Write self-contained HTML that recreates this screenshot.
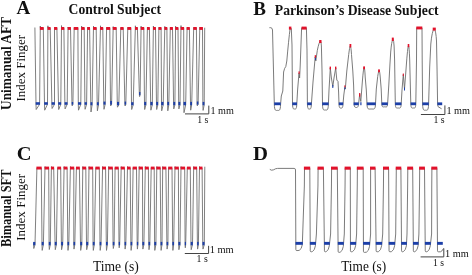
<!DOCTYPE html>
<html><head><meta charset="utf-8"><title>Figure</title>
<style>
html,body{margin:0;padding:0;background:#fff;overflow:hidden}
svg{display:block}
text{font-family:"Liberation Serif","Times New Roman",serif;fill:#111}
</style></head><body>
<svg width="472" height="275" viewBox="0 0 472 275">
<rect width="472" height="275" fill="#fff"/>
<g>
<path d="M34.9 27.5 L36 104.8 L36.2 109.5 L39.6 104.3 L40.3 26 L40.4 28.2 L43.3 28.2 L44.5 104.8 L44.7 110.2 L47.5 104.3 L47.9 25.8 L48 28.2 L50.2 28.2 L51.9 104.8 L52.1 108.5 L54.5 104.3 L54.5 27.2 L54.6 28.2 L56.9 28.2 L58.5 104.8 L58.7 109.5 L60.8 104.3 L61.5 25.6 L61.6 28.2 L63.9 28.2 L64.9 104.8 L65.1 108.9 L67.2 104.3 L68.1 27 L68.2 28.2 L70.5 28.2 L72 104.7 L72.2 105.9 L72.9 104.2 L74.2 27.8 L74.3 28.2 L77.9 28.2 L78.3 104.8 L78.5 110.2 L80.8 104.3 L81.6 26 L81.7 28.2 L84.2 28.2 L84.9 104.8 L85.1 109.3 L86.6 104.3 L87.6 27.6 L87.7 28.2 L89.6 28.2 L90.8 105.3 L91 112 L92.1 104.8 L93.5 26.2 L93.6 28.2 L96.2 28.2 L97.2 105.3 L97.4 110.8 L98.5 104.8 L100.5 25.8 L100.6 28.2 L102.8 28.2 L103.8 104.7 L104 109.3 L105.2 104.2 L106.6 27.7 L106.7 28.2 L109.8 28.2 L110.5 104.7 L110.7 105.9 L111.6 104.2 L113.2 26.6 L113.3 28.2 L116.2 28.2 L117.3 105.3 L117.5 107.2 L118.8 104.8 L120.8 27.7 L120.9 28.2 L123.2 28.2 L124.9 104.7 L125.1 106 L125.8 104.2 L127.8 27.6 L127.9 28.2 L130.8 28.2 L131.5 105.3 L131.7 109.5 L133.2 104.8 L135.4 25.8 L135.5 28.2 L137.4 28.2 L139.4 95.2 L139.6 96.6 L140.1 94.7 L141.1 26.2 L141.2 28.2 L143.8 28.2 L144.5 105.3 L144.7 109.5 L145.9 104.8 L147.4 27.6 L147.5 28.2 L149.4 28.2 L150.7 105.3 L150.9 110.2 L152.3 104.8 L153.4 26 L153.5 28.2 L155.5 28.2 L156.5 105.3 L156.7 109.5 L157.8 104.8 L158.9 27.6 L159 28.2 L161.1 28.2 L161.5 105.3 L161.7 110.8 L163.2 104.8 L164.8 26.4 L164.9 28.2 L166.9 28.2 L167.6 105.3 L167.8 110.8 L168.8 104.8 L170.3 27.6 L170.4 28.2 L172.5 28.2 L173.6 105.3 L173.8 108.9 L174.9 104.8 L175.6 26.2 L175.7 28.2 L178 28.2 L178.7 105.3 L178.9 108.9 L180 104.8 L181 25.6 L181.1 28.2 L183.7 28.2 L183.8 105.3 L184 112.7 L185.7 104.8 L187.1 27.6 L187.2 28.2 L189.4 28.2 L190.5 105.3 L190.7 110.2 L191.7 104.8 L193.7 27.6 L193.8 28.2 L196.4 28.2 L197.1 104.7 L197.3 105.9 L198.1 104.2 L199.8 27.4 L199.9 28.2 L202.5 28.2 L202.9 105.3 L203.1 110.4 L204.2 104.8 L204.7 27.7" fill="none" stroke="#727272" stroke-width="0.9" stroke-linejoin="round"/>
<rect x="39.9" y="27" width="3.8" height="2.9" fill="#e2122b"/>
<rect x="47.5" y="27" width="3.1" height="2.9" fill="#e2122b"/>
<rect x="54.1" y="27" width="3.2" height="2.9" fill="#e2122b"/>
<rect x="61.1" y="27" width="3.2" height="2.9" fill="#e2122b"/>
<rect x="67.7" y="27" width="3.2" height="2.9" fill="#e2122b"/>
<rect x="73.8" y="27" width="4.5" height="2.9" fill="#e2122b"/>
<rect x="81.2" y="27" width="3.4" height="2.9" fill="#e2122b"/>
<rect x="87.2" y="27" width="2.8" height="2.9" fill="#e2122b"/>
<rect x="93.1" y="27" width="3.5" height="2.9" fill="#e2122b"/>
<rect x="100.1" y="27" width="3.1" height="2.9" fill="#e2122b"/>
<rect x="106.2" y="27" width="4" height="2.9" fill="#e2122b"/>
<rect x="112.8" y="27" width="3.8" height="2.9" fill="#e2122b"/>
<rect x="120.4" y="27" width="3.2" height="2.9" fill="#e2122b"/>
<rect x="127.4" y="27" width="3.8" height="2.9" fill="#e2122b"/>
<rect x="135" y="27" width="2.8" height="2.9" fill="#e2122b"/>
<rect x="140.7" y="27" width="3.5" height="2.9" fill="#e2122b"/>
<rect x="147" y="27" width="2.8" height="2.9" fill="#e2122b"/>
<rect x="153" y="27" width="2.9" height="2.9" fill="#e2122b"/>
<rect x="158.5" y="27" width="3" height="2.9" fill="#e2122b"/>
<rect x="164.4" y="27" width="2.9" height="2.9" fill="#e2122b"/>
<rect x="169.9" y="27" width="3" height="2.9" fill="#e2122b"/>
<rect x="175.2" y="27" width="3.2" height="2.9" fill="#e2122b"/>
<rect x="180.6" y="27" width="3.5" height="2.9" fill="#e2122b"/>
<rect x="186.7" y="27" width="3.1" height="2.9" fill="#e2122b"/>
<rect x="193.3" y="27" width="3.5" height="2.9" fill="#e2122b"/>
<rect x="199.4" y="27" width="3.5" height="2.9" fill="#e2122b"/>
<rect x="35.7" y="102.2" width="4.2" height="2.6" fill="#1c3fa8"/>
<rect x="44.2" y="102.2" width="3.6" height="2.6" fill="#1c3fa8"/>
<rect x="51.6" y="102.2" width="3.2" height="2.6" fill="#1c3fa8"/>
<rect x="58.2" y="102.2" width="2.9" height="2.6" fill="#1c3fa8"/>
<rect x="64.6" y="102.2" width="2.9" height="2.6" fill="#1c3fa8"/>
<rect x="71.7" y="102" width="1.5" height="2.7" fill="#1c3fa8"/>
<rect x="78" y="102.2" width="3.1" height="2.6" fill="#1c3fa8"/>
<rect x="84.6" y="102.2" width="2.3" height="2.6" fill="#1c3fa8"/>
<rect x="90.5" y="102.2" width="1.9" height="3.1" fill="#1c3fa8"/>
<rect x="96.9" y="102.2" width="1.9" height="3.1" fill="#1c3fa8"/>
<rect x="103.5" y="101.6" width="2" height="3.1" fill="#1c3fa8"/>
<rect x="110.2" y="100.9" width="1.7" height="3.8" fill="#1c3fa8"/>
<rect x="117" y="101.9" width="2.1" height="3.4" fill="#1c3fa8"/>
<rect x="124.6" y="101.6" width="1.5" height="3.1" fill="#1c3fa8"/>
<rect x="131.2" y="102.2" width="2.3" height="3.1" fill="#1c3fa8"/>
<rect x="139.1" y="92" width="1.3" height="3.2" fill="#1c3fa8"/>
<rect x="144.2" y="101.9" width="2" height="3.4" fill="#1c3fa8"/>
<rect x="150.4" y="101.9" width="2.2" height="3.4" fill="#1c3fa8"/>
<rect x="156.2" y="101.9" width="1.9" height="3.4" fill="#1c3fa8"/>
<rect x="161.2" y="101.9" width="2.3" height="3.4" fill="#1c3fa8"/>
<rect x="167.3" y="101.9" width="1.8" height="3.4" fill="#1c3fa8"/>
<rect x="173.3" y="101.9" width="1.9" height="3.4" fill="#1c3fa8"/>
<rect x="178.4" y="101.9" width="1.9" height="3.4" fill="#1c3fa8"/>
<rect x="183.5" y="101.9" width="2.5" height="3.4" fill="#1c3fa8"/>
<rect x="190.2" y="101.9" width="1.8" height="3.4" fill="#1c3fa8"/>
<rect x="196.8" y="101.5" width="1.6" height="3.2" fill="#1c3fa8"/>
<rect x="202.6" y="101.9" width="1.8" height="3.4" fill="#1c3fa8"/>
<path d="M33.5 242.5 L33.8 248.5 L35 244.5 L36.9 168.2 L41.3 168.2 L42 245 L42.2 250.4 L43.4 244.5 L45 166.6 L45.1 168.2 L48.7 168.2 L49.1 245 L49.3 249.5 L50.3 244.5 L51.4 166.6 L51.5 168.2 L53.7 168.2 L55.1 245 L55.3 249.7 L56.4 244.5 L57.7 167.8 L57.8 168.2 L60.7 168.2 L61.4 245 L61.6 249.7 L62.7 244.5 L64.1 166.6 L64.2 168.2 L67.1 168.2 L67.8 245 L68 250.4 L68.8 244.5 L70.4 166.6 L70.5 168.2 L73.8 168.2 L73.8 245 L74 249.1 L74.8 244.5 L76.4 167.8 L76.5 168.2 L79.4 168.2 L80.5 245 L80.7 250.4 L81.8 244.5 L82.8 166.6 L82.9 168.2 L85.8 168.2 L86.5 245 L86.7 249.7 L87.9 244.5 L89 166.6 L89.1 168.2 L92.7 168.2 L93.1 245 L93.3 250.4 L94.3 244.5 L95.8 167.8 L95.9 168.2 L99.3 168.2 L100 245 L100.2 250.4 L101 244.5 L102.6 166.6 L102.7 168.2 L105.6 168.2 L106.3 245 L106.5 250.4 L107.4 244.5 L108.7 166.6 L108.8 168.2 L112.4 168.2 L113.1 245 L113.3 248.5 L114.1 244.5 L115.1 167.8 L115.2 168.2 L118.3 168.2 L119 245 L119.2 247.8 L119.7 244.5 L121.2 166.6 L121.3 168.2 L124.4 168.2 L124.9 245 L125.1 249.1 L125.8 244.5 L127.5 166.6 L127.6 168.2 L130.2 168.2 L130.9 245 L131.1 250.4 L131.9 244.5 L133.1 167.8 L133.2 168.2 L136.5 168.2 L137.2 245 L137.4 249.1 L137.9 244.5 L139.2 166.6 L139.3 168.2 L142.5 168.2 L142.7 245 L142.9 249.1 L143.9 244.5 L145.3 166.6 L145.4 168.2 L148.4 168.2 L148.8 245 L149 249.7 L149.8 244.5 L151.2 167.8 L151.3 168.2 L154.2 168.2 L154.6 245 L154.8 250.4 L155.9 244.5 L156.8 166.6 L156.9 168.2 L160.2 168.2 L160.9 245 L161.1 250.4 L162 244.5 L162.7 166.6 L162.8 168.2 L165.9 168.2 L166.9 245 L167.1 249.1 L167.9 244.5 L168.6 167.8 L168.7 168.2 L172 168.2 L172.7 245 L172.9 250.4 L173.7 244.5 L175 166.6 L175.1 168.2 L178.4 168.2 L178.7 245 L178.9 249.7 L180 244.5 L181 166.6 L181.1 168.2 L184.7 168.2 L185.1 245 L185.3 247.8 L185.7 244.5 L187.3 167.8 L187.4 168.2 L190.3 168.2 L191 245 L191.2 249.7 L192.5 244.5 L193.7 166.6 L193.8 168.2 L196.7 168.2 L197.4 245 L197.6 249.1 L198.4 244.5 L199.5 166.6 L199.6 168.2 L202.1 168.2 L202.8 245 L203 249.1 L204.3 244.5 L204.8 166.7" fill="none" stroke="#727272" stroke-width="0.9" stroke-linejoin="round"/>
<rect x="36.4" y="166.6" width="5.3" height="2.9" fill="#e2122b"/>
<rect x="44.6" y="166.6" width="4.5" height="2.9" fill="#e2122b"/>
<rect x="51" y="166.6" width="3.1" height="2.9" fill="#e2122b"/>
<rect x="57.3" y="166.6" width="3.8" height="2.9" fill="#e2122b"/>
<rect x="63.7" y="166.6" width="3.8" height="2.9" fill="#e2122b"/>
<rect x="70" y="166.6" width="4.2" height="2.9" fill="#e2122b"/>
<rect x="76" y="166.6" width="3.8" height="2.9" fill="#e2122b"/>
<rect x="82.4" y="166.6" width="3.8" height="2.9" fill="#e2122b"/>
<rect x="88.6" y="166.6" width="4.5" height="2.9" fill="#e2122b"/>
<rect x="95.4" y="166.6" width="4.3" height="2.9" fill="#e2122b"/>
<rect x="102.2" y="166.6" width="3.8" height="2.9" fill="#e2122b"/>
<rect x="108.3" y="166.6" width="4.5" height="2.9" fill="#e2122b"/>
<rect x="114.7" y="166.6" width="4" height="2.9" fill="#e2122b"/>
<rect x="120.8" y="166.6" width="4" height="2.9" fill="#e2122b"/>
<rect x="127.1" y="166.6" width="3.5" height="2.9" fill="#e2122b"/>
<rect x="132.7" y="166.6" width="4.2" height="2.9" fill="#e2122b"/>
<rect x="138.8" y="166.6" width="4.1" height="2.9" fill="#e2122b"/>
<rect x="144.9" y="166.6" width="3.9" height="2.9" fill="#e2122b"/>
<rect x="150.8" y="166.6" width="3.8" height="2.9" fill="#e2122b"/>
<rect x="156.4" y="166.6" width="4.2" height="2.9" fill="#e2122b"/>
<rect x="162.3" y="166.6" width="4" height="2.9" fill="#e2122b"/>
<rect x="168.2" y="166.6" width="4.2" height="2.9" fill="#e2122b"/>
<rect x="174.6" y="166.6" width="4.2" height="2.9" fill="#e2122b"/>
<rect x="180.6" y="166.6" width="4.5" height="2.9" fill="#e2122b"/>
<rect x="186.9" y="166.6" width="3.8" height="2.9" fill="#e2122b"/>
<rect x="193.3" y="166.6" width="3.8" height="2.9" fill="#e2122b"/>
<rect x="199.1" y="166.6" width="3.4" height="2.9" fill="#e2122b"/>
<rect x="33.2" y="241.9" width="2.1" height="3.4" fill="#1c3fa8"/>
<rect x="41.7" y="241.9" width="2" height="3.4" fill="#1c3fa8"/>
<rect x="48.8" y="241.9" width="1.8" height="3.4" fill="#1c3fa8"/>
<rect x="54.8" y="241.9" width="1.9" height="3.4" fill="#1c3fa8"/>
<rect x="61.1" y="241.9" width="1.9" height="3.4" fill="#1c3fa8"/>
<rect x="67.5" y="241.9" width="1.6" height="3.4" fill="#1c3fa8"/>
<rect x="73.5" y="241.9" width="1.6" height="3.4" fill="#1c3fa8"/>
<rect x="80.2" y="241.9" width="1.9" height="3.4" fill="#1c3fa8"/>
<rect x="86.2" y="241.9" width="2" height="3.4" fill="#1c3fa8"/>
<rect x="92.8" y="241.9" width="1.8" height="3.4" fill="#1c3fa8"/>
<rect x="99.7" y="241.9" width="1.6" height="3.4" fill="#1c3fa8"/>
<rect x="106" y="241.9" width="1.7" height="3.4" fill="#1c3fa8"/>
<rect x="112.8" y="241.9" width="1.6" height="3.4" fill="#1c3fa8"/>
<rect x="118.7" y="241.9" width="1.3" height="3.4" fill="#1c3fa8"/>
<rect x="124.6" y="241.9" width="1.5" height="3.4" fill="#1c3fa8"/>
<rect x="130.6" y="241.9" width="1.6" height="3.4" fill="#1c3fa8"/>
<rect x="136.9" y="241.9" width="1.3" height="3.4" fill="#1c3fa8"/>
<rect x="142.4" y="241.9" width="1.8" height="3.4" fill="#1c3fa8"/>
<rect x="148.5" y="241.9" width="1.6" height="3.4" fill="#1c3fa8"/>
<rect x="154.3" y="241.9" width="1.9" height="3.4" fill="#1c3fa8"/>
<rect x="160.6" y="241.9" width="1.7" height="3.4" fill="#1c3fa8"/>
<rect x="166.6" y="241.9" width="1.6" height="3.4" fill="#1c3fa8"/>
<rect x="172.4" y="241.9" width="1.6" height="3.4" fill="#1c3fa8"/>
<rect x="178.4" y="241.9" width="1.9" height="3.4" fill="#1c3fa8"/>
<rect x="184.8" y="241.9" width="1.2" height="3.4" fill="#1c3fa8"/>
<rect x="190.7" y="241.9" width="2.1" height="3.4" fill="#1c3fa8"/>
<rect x="197.1" y="241.9" width="1.6" height="3.4" fill="#1c3fa8"/>
<rect x="202.5" y="241.9" width="2" height="3.4" fill="#1c3fa8"/>
<path d="M269.8 169.4 Q271.5 170.8 273.6 169.8 Q275.6 168.4 277.6 168.4 L294.2 168.4 Q295.5 168.4 295.5 170 L295.85 249.6 Q295.85 250.6 296.85 250.6 L299.2 250.4 Q301.6 249.4 302.3 244.6 L302.7 234 L304.35 186 L304.5 168.3 L309.8 168.3 L310.25 250.8 Q310.25 251.8 311.25 251.8 L312.3 251.6 Q314.7 250.6 315.4 245.8 L316.4 234 L317.95 186 L318.1 168.3 L323.4 168.3 L324.45 250.8 Q324.45 251.8 325.45 251.8 L326.2 251.6 Q328.6 250.6 329.3 245.8 L330.6 234 L331.45 186 L331.6 168.3 L337.3 168.3 L338.15 251.4 Q338.15 252.4 339.15 252.4 L340.2 252.2 Q342.6 251.2 343.3 246.4 L344.3 234 L345.05 186 L345.2 168.3 L350.3 168.3 L350.45 250.8 Q350.45 251.8 351.45 251.8 L352.5 251.6 Q354.9 250.6 355.6 245.8 L356.6 234 L357.25 186 L357.4 168.3 L363.2 168.3 L363.45 251.4 Q363.45 252.4 364.45 252.4 L366.4 252.2 Q368.8 251.2 369.5 246.4 L370.6 234 L370.6 186 L370.6 168.3 L375.1 168.3 L376.15 250.8 Q376.15 251.8 377.15 251.8 L378.5 251.6 Q380.9 250.6 381.6 245.8 L382.7 234 L383.45 186 L383.6 168.3 L388.6 168.3 L389.05 250.8 Q389.05 251.8 390.05 251.8 L391.5 251.6 Q393.9 250.6 394.6 245.8 L395.7 234 L396.15 186 L396.3 168.3 L400.9 168.3 L401.55 250.8 Q401.55 251.8 402.55 251.8 L403.3 251.6 Q405.7 250.6 406.4 245.8 L407 234 L407.65 186 L407.8 168.3 L412.7 168.3 L413.35 250.8 Q413.35 251.8 414.35 251.8 L415 251.6 Q417.4 250.6 418.1 245.8 L418.9 234 L419.55 186 L419.7 168.3 L424.5 168.3 L425.25 250.8 Q425.25 251.8 426.25 251.8 L427.2 251.6 Q429.6 250.6 430.3 245.8 L431.6 234 L431.75 186 L431.9 168.3 L436.9 168.3 L437.5 250.8 Q437.5 251.8 438.5 251.8 L440.4 251.8 Q442 251.6 442.9 249.2 L443.7 248.6" fill="none" stroke="#6c6c6c" stroke-width="0.9" stroke-linejoin="round"/>
<rect x="303.9" y="166.6" width="6.3" height="3.1" fill="#e2122b"/>
<rect x="317.5" y="166.6" width="6.3" height="3.1" fill="#e2122b"/>
<rect x="331" y="166.6" width="6.7" height="3.1" fill="#e2122b"/>
<rect x="344.6" y="166.6" width="6.1" height="3.1" fill="#e2122b"/>
<rect x="356.8" y="166.6" width="6.8" height="3.1" fill="#e2122b"/>
<rect x="370" y="166.6" width="5.5" height="3.1" fill="#e2122b"/>
<rect x="383" y="166.6" width="6" height="3.1" fill="#e2122b"/>
<rect x="395.7" y="166.6" width="5.6" height="3.1" fill="#e2122b"/>
<rect x="407.2" y="166.6" width="5.9" height="3.1" fill="#e2122b"/>
<rect x="419.1" y="166.6" width="5.8" height="3.1" fill="#e2122b"/>
<rect x="431.3" y="166.6" width="6" height="3.1" fill="#e2122b"/>
<rect x="295.5" y="241.9" width="7.3" height="2.9" fill="#1c3fa8"/>
<rect x="309.9" y="241.9" width="6" height="2.9" fill="#1c3fa8"/>
<rect x="324.1" y="241.9" width="5.7" height="2.9" fill="#1c3fa8"/>
<rect x="337.8" y="241.9" width="6" height="2.9" fill="#1c3fa8"/>
<rect x="350.1" y="241.9" width="6" height="2.9" fill="#1c3fa8"/>
<rect x="363.1" y="241.9" width="6.9" height="2.9" fill="#1c3fa8"/>
<rect x="375.8" y="241.9" width="6.3" height="2.9" fill="#1c3fa8"/>
<rect x="388.7" y="241.9" width="6.4" height="2.9" fill="#1c3fa8"/>
<rect x="401.2" y="241.9" width="5.7" height="2.9" fill="#1c3fa8"/>
<rect x="413" y="241.9" width="5.6" height="2.9" fill="#1c3fa8"/>
<rect x="424.9" y="241.9" width="5.9" height="2.9" fill="#1c3fa8"/>
<rect x="437.1" y="241.9" width="5.7" height="2.9" fill="#1c3fa8"/>
<path d="M269.4 27.7 L270.8 27.7 Q272.3 27.8 272.5 30 L274.3 104 C274.5 111.4 275.8 110.4 277.45 110.4 C279.1 110.4 280.4 111.4 280.6 104 L281.3 96 L282.8 91 L283.6 72 L284.6 68.5 L285.8 66.5 L286.8 61 Q288.6 40 290.2 28 L291.3 28.5 L292 45 L292.5 104 C292.7 110 294 109 294.65 109 C295.3 109 296.6 110 296.8 104 L297.6 90 L299 73 L299.6 78 L300.2 66 L301.6 27.8 L306.4 27.8 L307 50 L307.4 104 C307.6 110 308.9 109 309.4 109 C309.9 109 311.2 110 311.4 104 L313 82 L315.2 57 L315.8 61 L317.3 50.5 Q319 42 320.4 41 Q321.2 41.5 321.4 46 L322 70 L322.5 104 C322.6 111 323.9 110 325.4 110 C326.9 110 328.2 111 328.4 104 L329 90 L330.3 68 L331.4 78 L332.8 86.5 L334 78 L335.7 68 L336.8 80 L338 81.5 L338.6 92 L339 104 C339.2 109 340.5 108 341 108 C341.5 108 342.8 109 343 104 L343.8 95 L344.8 87.5 L345.3 89 L346.8 71 L348.7 54.5 Q349.7 46.4 350.3 46 Q351 46.6 351.5 54.5 L352.8 71 L353.6 85 L354.2 104 C354.1 107 355 107.5 356.5 107.5 C358 107.5 358.6 106 358.8 102 L359.7 94.2 L360.3 99 L360.8 101.5 L361.7 90 L362.4 81 Q363.5 67.6 364.1 67.5 Q364.8 67.8 365.2 77 L366.3 90 L367 104 C367.2 110 368.5 109 371.25 109 C374 109 375.3 110 375.5 104 L376.3 89 L377.7 76.5 Q378.7 70.2 379.1 70.6 Q379.8 71.2 380.3 78 L381.2 89 L381.8 104 C382 107.8 383.3 106.8 384.7 106.8 C386.1 106.8 387.4 107.8 387.6 104 L388.8 85 L389.9 65 L390.7 52 Q391.6 41 392.9 39.4 Q393.8 40 394.1 46 L394.6 60 L395.3 104 C395.5 109 396.8 108 398.25 108 C399.7 108 401 109 401.2 104 L402 90 L403.3 74.5 L404.5 89 L406.2 67 Q407.6 47 408.5 45.4 Q409.2 46 409.7 60 L410.8 104 C411 109 412.3 108 413.3 108 C414.3 108 415.6 109 415.8 104 L416.5 60 L416.7 27.8 L422 27.8 L422.2 60 L422.6 104 C422.8 111.2 424.1 110.2 425.6 110.2 C427.1 110.2 428.4 111.2 428.6 104 L429.7 67 L430.8 44 Q432 31 434.2 28.5 Q436 31 436.5 41 L437 67 L437.6 104 L438 106.6 L441.6 108.8" fill="none" stroke="#6c6c6c" stroke-width="0.9" stroke-linejoin="round"/>
<rect x="288.9" y="26.6" width="2.5" height="3" fill="#e2122b"/>
<rect x="301.6" y="26.6" width="5" height="3" fill="#e2122b"/>
<rect x="314.7" y="55.2" width="1.3" height="2.6" fill="#e2122b"/>
<rect x="319.2" y="40" width="2.3" height="3" fill="#e2122b"/>
<rect x="298.5" y="71.4" width="1.2" height="2.4" fill="#e2122b"/>
<rect x="329.6" y="66.6" width="1.4" height="2.8" fill="#e2122b"/>
<rect x="335" y="66.6" width="1.4" height="2.8" fill="#e2122b"/>
<rect x="344.3" y="85.4" width="1.1" height="2" fill="#e2122b"/>
<rect x="349.5" y="44" width="1.8" height="3.4" fill="#e2122b"/>
<rect x="359.1" y="93" width="1.2" height="3.6" fill="#e2122b"/>
<rect x="363.2" y="66.4" width="1.8" height="2.8" fill="#e2122b"/>
<rect x="378.1" y="69.4" width="1.8" height="2.8" fill="#e2122b"/>
<rect x="391.8" y="37.6" width="2" height="3.4" fill="#e2122b"/>
<rect x="407.7" y="44" width="1.6" height="3.2" fill="#e2122b"/>
<rect x="416.3" y="26.5" width="6" height="2.9" fill="#e2122b"/>
<rect x="432.7" y="27.6" width="3.1" height="3" fill="#e2122b"/>
<rect x="402.8" y="73.5" width="1" height="2.5" fill="#e2122b"/>
<rect x="274.2" y="102.4" width="6.5" height="2.8" fill="#1c3fa8"/>
<rect x="292.3" y="102.4" width="4.7" height="2.8" fill="#1c3fa8"/>
<rect x="307.2" y="102.4" width="4.4" height="2.8" fill="#1c3fa8"/>
<rect x="322.2" y="102.4" width="6.4" height="2.8" fill="#1c3fa8"/>
<rect x="338.8" y="102.4" width="4.4" height="2.8" fill="#1c3fa8"/>
<rect x="353.6" y="102.4" width="5.2" height="2.8" fill="#1c3fa8"/>
<rect x="366.8" y="102.4" width="8.9" height="2.8" fill="#1c3fa8"/>
<rect x="381.6" y="102.4" width="6.2" height="2.8" fill="#1c3fa8"/>
<rect x="395.1" y="102.4" width="6.3" height="2.8" fill="#1c3fa8"/>
<rect x="410.6" y="102.4" width="5.4" height="2.8" fill="#1c3fa8"/>
<rect x="422.4" y="102.4" width="6.4" height="2.8" fill="#1c3fa8"/>
<rect x="437.4" y="102.4" width="4.8" height="2.8" fill="#1c3fa8"/>
<rect x="332.3" y="85" width="1" height="3" fill="#1c3fa8"/>
<rect x="344.4" y="87.4" width="1" height="2" fill="#1c3fa8"/>
<rect x="404" y="87.5" width="1" height="3" fill="#1c3fa8"/>
<rect x="360.3" y="102.2" width="1.2" height="3" fill="#1c3fa8"/>
<rect x="315" y="57.8" width="1" height="2.2" fill="#1c3fa8"/>
<path d="M185 113.9 L208.8 113.9 L208.8 105.6" fill="none" stroke="#444" stroke-width="1"/>
<path d="M420.9 114.5 L444.9 114.5 L444.9 105.4" fill="none" stroke="#444" stroke-width="1"/>
<path d="M184.8 253.5 L208.6 253.5 L208.6 245.8" fill="none" stroke="#444" stroke-width="1"/>
<path d="M420.6 256.9 L443.8 256.9 L443.8 248.4" fill="none" stroke="#444" stroke-width="1"/>
<text x="210.5" y="113.8" font-size="11.3" textLength="23.4" lengthAdjust="spacingAndGlyphs">1 mm</text>
<text x="197.2" y="123" font-size="10.6" textLength="11.2" lengthAdjust="spacingAndGlyphs">1 s</text>
<text x="446.4" y="113.9" font-size="11.3" textLength="23.6" lengthAdjust="spacingAndGlyphs">1 mm</text>
<text x="433.4" y="123.2" font-size="10.8" textLength="11.2" lengthAdjust="spacingAndGlyphs">1 s</text>
<text x="209.7" y="253.4" font-size="11.4" textLength="24" lengthAdjust="spacingAndGlyphs">1 mm</text>
<text x="196.6" y="262.4" font-size="10.8" textLength="11.2" lengthAdjust="spacingAndGlyphs">1 s</text>
<text x="445" y="256.6" font-size="11" textLength="23.8" lengthAdjust="spacingAndGlyphs">1 mm</text>
<text x="433" y="266.4" font-size="10" textLength="11" lengthAdjust="spacingAndGlyphs">1 s</text>
<text x="16.4" y="14.4" font-size="19" font-weight="bold">A</text>
<text x="253.2" y="14.5" font-size="19" font-weight="bold">B</text>
<text x="16.8" y="159.5" font-size="19" font-weight="bold" textLength="14.8" lengthAdjust="spacingAndGlyphs">C</text>
<text x="252.9" y="160.2" font-size="19" font-weight="bold" textLength="15" lengthAdjust="spacingAndGlyphs">D</text>
<text x="68.6" y="14.4" font-size="13.7" font-weight="bold" textLength="92.4" lengthAdjust="spacingAndGlyphs">Control Subject</text>
<text x="274.8" y="14.7" font-size="13.6" font-weight="bold" textLength="163.8" lengthAdjust="spacingAndGlyphs">Parkinson’s Disease Subject</text>
<text x="92.9" y="270.8" font-size="14" textLength="46" lengthAdjust="spacingAndGlyphs">Time (s)</text>
<text x="341.2" y="270.5" font-size="14" textLength="45" lengthAdjust="spacingAndGlyphs">Time (s)</text>
<text transform="translate(10.9 110) rotate(-90)" font-size="14.3" font-weight="bold" textLength="93" lengthAdjust="spacingAndGlyphs">Unimanual AFT</text>
<text transform="translate(25.3 101.6) rotate(-90)" font-size="13.5" textLength="66.8" lengthAdjust="spacingAndGlyphs">Index Finger</text>
<text transform="translate(10.9 247) rotate(-90)" font-size="14.3" font-weight="bold" textLength="77.4" lengthAdjust="spacingAndGlyphs">Bimanual SFT</text>
<text transform="translate(25.3 240.8) rotate(-90)" font-size="13.5" textLength="67" lengthAdjust="spacingAndGlyphs">Index Finger</text>
</g>
</svg>
</body></html>
